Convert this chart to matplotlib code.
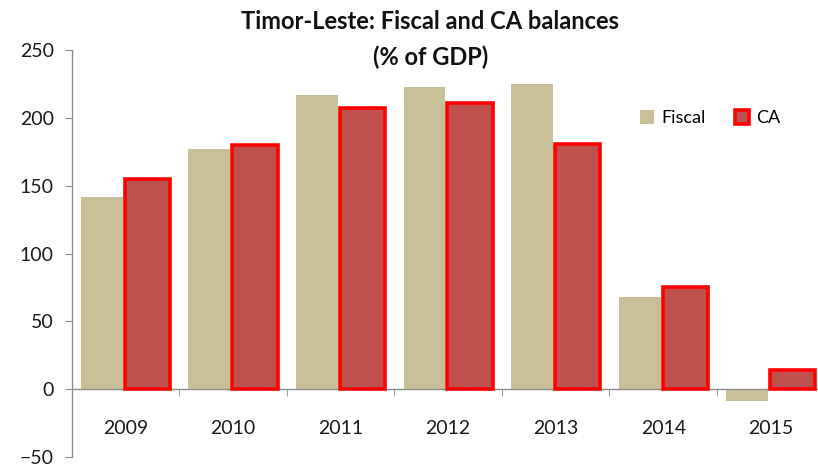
import numpy as np
import matplotlib.pyplot as plt

# Timor-Leste fiscal and current account balances, % of GDP
years = ['2009', '2010', '2011', '2012', '2013', '2014', '2015']
fiscal = [142, 177, 217, 223, 225, 68, -9]
ca = [155, 180, 207, 211, 181, 75, 14]

plt.rcParams['font.family'] = ['Lato', 'DejaVu Sans']

fig = plt.figure(figsize=(8.18, 4.66), dpi=100)
ax = fig.add_axes([0.0877, 0.0193, 0.9203, 0.8734])

x = np.arange(len(years))
ax.bar(x - 0.22, fiscal, width=0.39, color='#C9BF98', label='Fiscal', zorder=2)
ax.bar(x + 0.204, ca, width=0.42, color='#C0504D', edgecolor='#FF0000',
       linewidth=2.6, label='CA', zorder=3)

ax.set_xlim(-0.5, 6.5)
ax.set_ylim(-50, 250)
ax.set_yticks([-50, 0, 50, 100, 150, 200, 250])

# x axis sits on zero, with small separators between the years
ax.spines['bottom'].set_position(('data', 0))
ax.spines['top'].set_visible(False)
ax.spines['right'].set_visible(False)
for s in ('left', 'bottom'):
    ax.spines[s].set_color('#8C8C8C')
    ax.spines[s].set_linewidth(1.0)

ax.set_xticks(x)
ax.set_xticklabels(years)
ax.set_xticks(x[:-1] + 0.5, minor=True)
ax.tick_params(axis='x', which='major', length=0, pad=22, labelsize=14,
               labelcolor='#1A1A1A')
ax.tick_params(axis='x', which='minor', length=5, color='#8C8C8C', direction='out')
ax.tick_params(axis='y', length=5, color='#8C8C8C', labelsize=14,
               labelcolor='#1A1A1A', pad=8)

fig.text(0.526, 0.953, 'Timor-Leste: Fiscal and CA balances', ha='center',
         va='center', fontsize=17, fontweight='bold', color='#111111')
fig.text(0.526, 0.878, '(% of GDP)', ha='center', va='center', fontsize=17,
         fontweight='bold', color='#111111')

ax.legend(loc='center left', bbox_to_anchor=(0.733, 0.832), ncol=2, frameon=False,
          fontsize=13, handlelength=0.8, handleheight=0.8, columnspacing=1.6,
          handletextpad=0.4)

fig.savefig('out.png', dpi=100)
